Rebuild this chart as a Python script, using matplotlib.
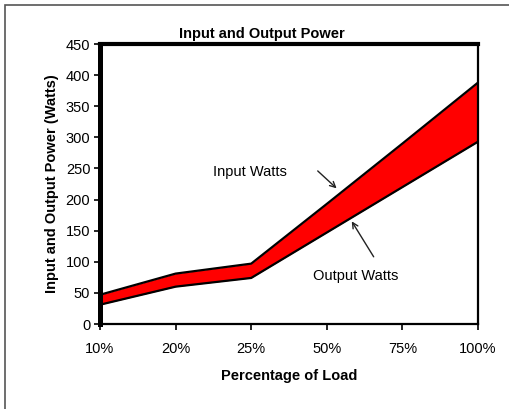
import matplotlib.pyplot as plt
import matplotlib.patches as mpatches

plt.rcParams['font.family'] = ['Liberation Sans', 'DejaVu Sans']

# data
loads = ['10%', '20%', '25%', '50%', '75%', '100%']
input_watts = [47, 81, 97, 193, 290, 388]
output_watts = [31, 60, 74, 147, 220, 293]

fig = plt.figure(figsize=(5.10, 4.09), dpi=100)
ax = fig.add_axes([100 / 510, 1 - 324 / 409, 378 / 510, 280 / 409])

x = range(len(loads))
ax.fill_between(x, output_watts, input_watts, color='#ff0000', linewidth=0, zorder=2)
ax.plot(x, input_watts, color='black', lw=1.6, zorder=3)
ax.plot(x, output_watts, color='black', lw=1.6, zorder=3)

ax.set_xlim(0, len(loads) - 1)
ax.set_ylim(0, 450)
ax.set_yticks(range(0, 451, 50))
ax.set_xticks(list(x))
ax.set_xticklabels(loads)
ax.tick_params(direction='out', length=4, width=1.2, labelsize=10.5, pad=3)
ax.tick_params(axis='x', pad=9)

for side, w in [('left', 3.6), ('top', 3.0), ('right', 1.6), ('bottom', 1.6)]:
    ax.spines[side].set_linewidth(w)

fig.text(262 / 510, 1 - 34 / 409, 'Input and Output Power', fontsize=10.5,
         fontweight='bold', ha='center', va='center')
ax.set_xlabel('Percentage of Load', fontsize=10.5, fontweight='bold', labelpad=9)
ax.set_ylabel('Input and Output Power (Watts)', fontsize=10.5, fontweight='bold', labelpad=5)

# annotations
ax.text(1.5, 244, 'Input Watts', fontsize=10.5, ha='left', va='center')
ax.annotate('', xy=(3.13, 218), xytext=(2.88, 246),
            arrowprops=dict(arrowstyle='->', color='#222222', lw=1.0,
                            shrinkA=0, shrinkB=0))
ax.text(2.82, 77, 'Output Watts', fontsize=10.5, ha='left', va='center')
ax.annotate('', xy=(3.33, 165), xytext=(3.62, 108),
            arrowprops=dict(arrowstyle='->', color='#222222', lw=1.0,
                            shrinkA=0, shrinkB=0))

# outer frame
fig.patches.append(mpatches.Rectangle((5 / 510, -0.1), 1.2, 1 - 5 / 409 + 0.1,
                                      transform=fig.transFigure, fill=False,
                                      edgecolor='#555555', lw=1.2))

fig.savefig('out.png', dpi=100)
